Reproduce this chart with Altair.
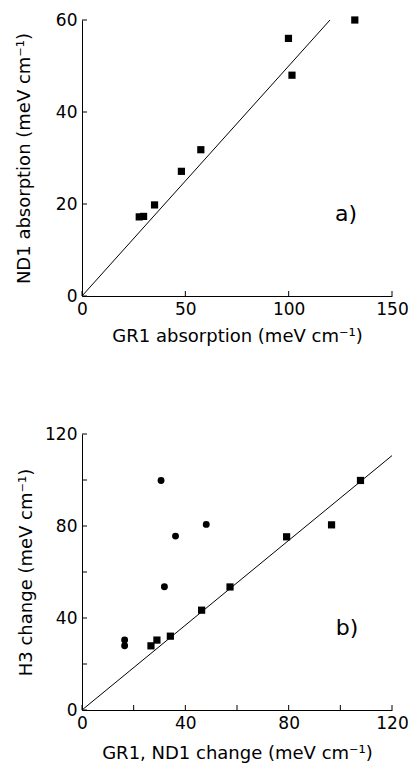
import altair as alt
import pandas as pd

# Panel a data
a_x = [27.7, 29.8, 35.1, 48.1, 57.5, 99.9, 101.6, 132.0]
a_y = [17.2, 17.3, 19.8, 27.1, 31.8, 56.0, 48.0, 60.0]
a_line_x = [0, 120]
a_line_y = [0, 60]
a_xticks = [0, 50, 100, 150]
a_yticks = [0, 20, 40, 60]

# Panel b data
b_sq_x = [26.7, 29.0, 34.2, 46.3, 57.3, 79.2, 96.6, 107.8]
b_sq_y = [27.9, 30.4, 32.1, 43.4, 53.5, 75.3, 80.5, 99.8]
b_ci_x = [16.5, 16.5, 30.6, 31.9, 36.2, 48.1]
b_ci_y = [30.4, 27.9, 99.8, 53.6, 75.6, 80.7]
b_line_x = [0, 120]
b_line_y = [0, 110.6]
b_xticks = [0, 40, 80, 120]
b_xminor = [20, 60, 100]
b_yticks = [0, 40, 80, 120]
b_yminor = [20, 60, 100]

W, H = 310, 276
FONT = "DejaVu Sans"
LBL = 17
TTL = 18


def axis(values, title, tpad):
    return alt.Axis(values=values, title=title, ticks=False, grid=False,
                    domainColor="black", domainWidth=1, labelFont=FONT,
                    labelFontSize=LBL, labelColor="black", labelPadding=5,
                    labelFlush=False, labelOverlap=False,
                    titleFont=FONT, titleFontSize=TTL, titleColor="black",
                    titleFontWeight="normal", titlePadding=tpad, format="d")


def panel(pts_sq, pts_ci, line, xdom, ydom, xt, yt, xmin, ymin, xtitle, ytitle,
          ytpad, xtpad, label, lab_px):
    xs = alt.Scale(domain=xdom, nice=False)
    ys = alt.Scale(domain=ydom, nice=False)
    layers = []
    ldf = pd.DataFrame({"x": line[0], "y": line[1]})
    layers.append(alt.Chart(ldf).mark_line(color="black", strokeWidth=1).encode(
        x=alt.X("x:Q", scale=xs, axis=axis(xt, xtitle, xtpad)),
        y=alt.Y("y:Q", scale=ys, axis=axis(yt, ytitle, ytpad))))
    sdf = pd.DataFrame({"x": pts_sq[0], "y": pts_sq[1]})
    layers.append(alt.Chart(sdf).mark_square(color="black", opacity=1, size=52).encode(
        x=alt.X("x:Q", scale=xs), y=alt.Y("y:Q", scale=ys)))
    if pts_ci is not None:
        cdf = pd.DataFrame({"x": pts_ci[0], "y": pts_ci[1]})
        layers.append(alt.Chart(cdf).mark_circle(color="black", opacity=1, size=48).encode(
            x=alt.X("x:Q", scale=xs), y=alt.Y("y:Q", scale=ys)))
    # inward ticks
    xtdf = pd.DataFrame({"v": xt + xmin})
    layers.append(alt.Chart(xtdf).mark_rule(color="black", strokeWidth=1).encode(
        x=alt.X("v:Q", scale=xs), y=alt.value(H), y2=alt.value(H - 5)))
    ytdf = pd.DataFrame({"v": yt + ymin})
    layers.append(alt.Chart(ytdf).mark_rule(color="black", strokeWidth=1).encode(
        y=alt.Y("v:Q", scale=ys), x=alt.value(0), x2=alt.value(5)))
    layers.append(alt.Chart(pd.DataFrame({"t": [label]})).mark_text(
        font=FONT, fontSize=22, color="black", align="center", baseline="middle").encode(
        text="t:N", x=alt.value(lab_px[0]), y=alt.value(lab_px[1])))
    return alt.layer(*layers).properties(width=W, height=H)


pa = panel((a_x, a_y), None, (a_line_x, a_line_y), [0, 150], [0, 60],
           a_xticks, a_yticks, [], [],
           "GR1 absorption (meV cm\u207b\u00b9)", "ND1 absorption (meV cm\u207b\u00b9)",
           22, 10, "a)", (264, 194))
pb = panel((b_sq_x, b_sq_y), (b_ci_x, b_ci_y), (b_line_x, b_line_y), [0, 120], [0, 120],
           b_xticks, b_yticks, b_xminor, b_yminor,
           "GR1, ND1 change (meV cm\u207b\u00b9)", "H3 change (meV cm\u207b\u00b9)",
           9, 13, "b)", (265, 194))

chart = alt.vconcat(pa, pb, spacing=80).properties(
    padding={"left": 15, "top": 11, "right": 2, "bottom": 2},
    background="white"
).configure_view(stroke=None)

chart.save("out.html", embed_options={"renderer": "svg", "actions": False})
